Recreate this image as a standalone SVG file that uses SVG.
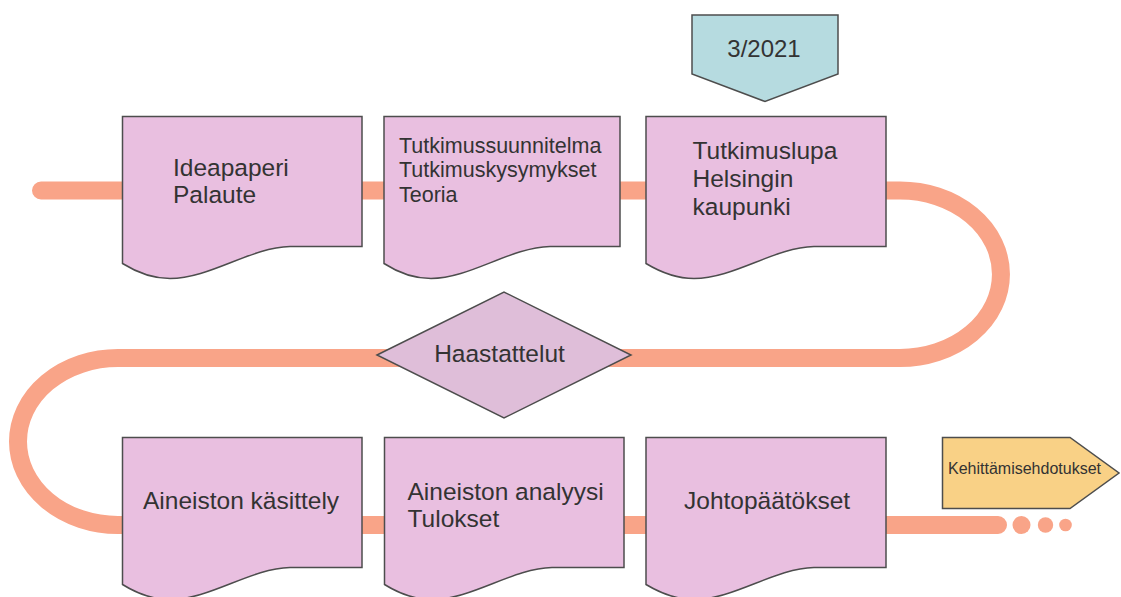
<svg xmlns="http://www.w3.org/2000/svg" width="1121" height="597" viewBox="0 0 1121 597">
<style>
.doc{fill:#e9bfe0;stroke:#4d4d4d;stroke-width:1.5}
.t{font-family:"Liberation Sans",Arial,sans-serif;fill:#333;font-size:24.5px}
.road{fill:none;stroke:#f9a488;stroke-width:18;stroke-linecap:round}
</style>
<rect width="1121" height="597" fill="#fff"/>
<g id="connectors">
<path class="road" d="M41,190.5 H900 A101,83.75 0 0 1 900,358 H118 A100,83.5 0 0 0 118,525 H998"/>
<circle cx="1021.5" cy="525" r="9" fill="#f9a488"/>
<circle cx="1045.5" cy="525" r="7.7" fill="#f9a488"/>
<circle cx="1065.5" cy="525" r="6.3" fill="#f9a488"/>
</g>
<g id="doc1">
<path class="doc" d="M122.5,116.5 H362 V246.5 H290 C250,247.5 210,278.5 170,278.5 C152,278.5 137,272.5 122.5,263.5 Z"/>
<text class="t" x="173" y="176">Ideapaperi</text>
<text class="t" x="173" y="203">Palaute</text>
</g>
<g id="doc2">
<path class="doc" d="M384,116.5 H620 V246.5 H550 C510,247.5 470,278.5 431,278.5 C413,278.5 398,272.5 384,263.5 Z"/>
<text class="t" x="399" y="153" style="font-size:21.5px">Tutkimussuunnitelma</text>
<text class="t" x="399" y="177" style="font-size:21.5px">Tutkimuskysymykset</text>
<text class="t" x="399" y="201.5" style="font-size:21.5px">Teoria</text>
</g>
<g id="doc3">
<path class="doc" d="M646,116.5 H886 V246.5 H814 C774,247.5 734,278.5 694,278.5 C676,278.5 661,272.5 646,263.5 Z"/>
<text class="t" x="692.5" y="158.5">Tutkimuslupa</text>
<text class="t" x="692.5" y="187">Helsingin</text>
<text class="t" x="692.5" y="215">kaupunki</text>
</g>
<g id="date">
<polygon points="692,15 838,15 838,74 765,101.5 692,74" fill="#b6dbe0" stroke="#4d4d4d" stroke-width="1.5"/>
<text class="t" x="764" y="57" text-anchor="middle" style="font-size:24px">3/2021</text>
</g>
<g id="haastattelut">
<polygon points="377,355 504,292 631,355 504,418" fill="#dfbed9" stroke="#4d4d4d" stroke-width="1.5"/>
<text class="t" x="499.5" y="362" text-anchor="middle">Haastattelut</text>
</g>
<g id="doc4">
<path class="doc" d="M122.5,437.5 H362 V567.5 H290 C250,568.5 210,599.5 170,599.5 C152,599.5 137,593.5 122.5,584.5 Z"/>
<text class="t" x="143" y="509">Aineiston käsittely</text>
</g>
<g id="doc5">
<path class="doc" d="M384.5,437.5 H624 V567.5 H552 C512,568.5 472,599.5 432,599.5 C414,599.5 399,593.5 384.5,584.5 Z"/>
<text class="t" x="407.5" y="500">Aineiston analyysi</text>
<text class="t" x="407.5" y="527">Tulokset</text>
</g>
<g id="doc6">
<path class="doc" d="M646,437.5 H886 V567.5 H814 C774,568.5 734,599.5 694,599.5 C676,599.5 661,593.5 646,584.5 Z"/>
<text class="t" x="684" y="509">Johtopäätökset</text>
</g>
<g id="kehittamisehdotukset">
<polygon points="942.5,437.5 1070,437.5 1119,473 1070,508.5 942.5,508.5" fill="#f9d186" stroke="#4d4d4d" stroke-width="1.5"/>
<text class="t" x="948" y="474" style="font-size:16px">Kehittämisehdotukset</text>
</g>
</svg>
